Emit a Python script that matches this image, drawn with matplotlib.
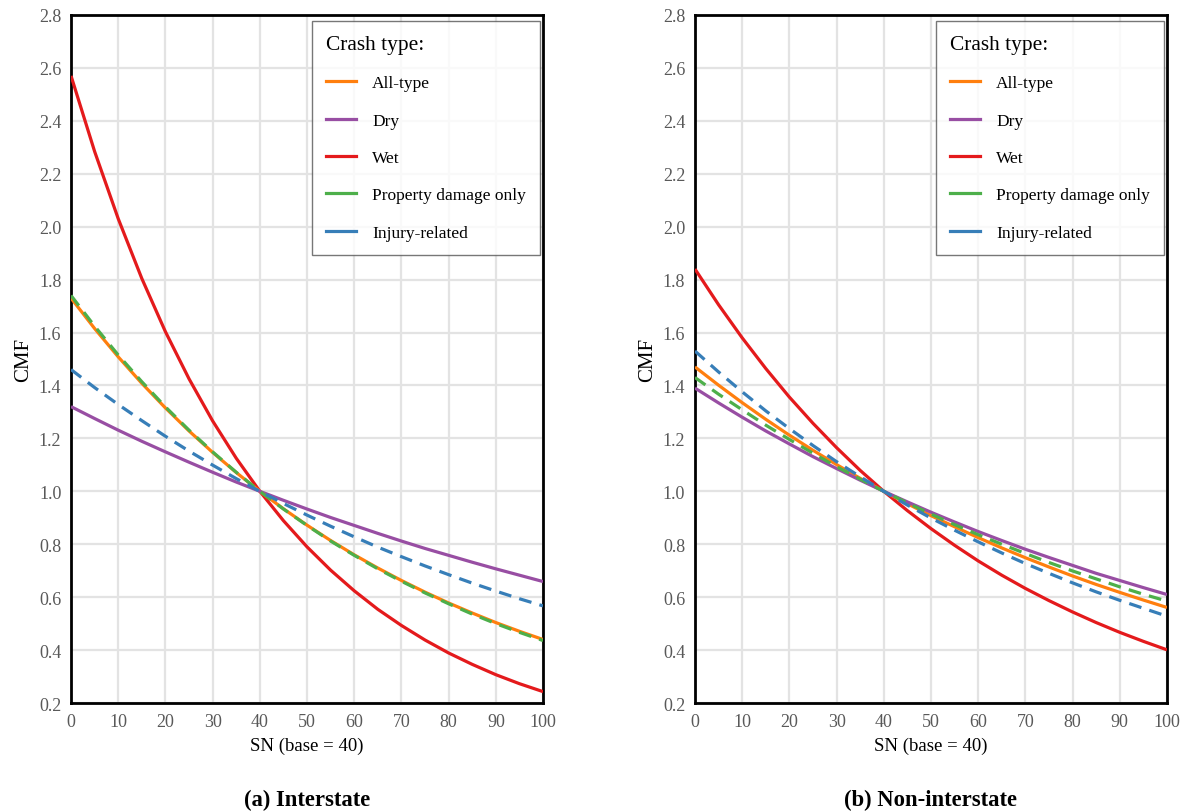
import numpy as np
import matplotlib
matplotlib.use("Agg")
import matplotlib.pyplot as plt          # noqa: E402
from matplotlib.lines import Line2D      # noqa: E402

plt.rcParams["font.family"] = ["Liberation Serif", "DejaVu Serif"]

sn = [0, 5, 10, 15, 20, 25, 30, 35, 40, 45, 50, 55, 60, 65, 70, 75, 80, 85, 90, 95, 100]
crash_types = ["All-type", "Dry", "Wet", "Property damage only", "Injury-related"]

# (a) Interstate
inter_all = [1.73, 1.615, 1.508, 1.408, 1.315, 1.228, 1.147, 1.071, 1.0, 0.934, 0.872,
             0.814, 0.760, 0.710, 0.663, 0.619, 0.578, 0.540, 0.504, 0.471, 0.440]
inter_dry = [1.32, 1.275, 1.231, 1.189, 1.149, 1.110, 1.072, 1.035, 1.0, 0.966, 0.933,
             0.901, 0.871, 0.841, 0.812, 0.784, 0.758, 0.732, 0.707, 0.683, 0.659]
inter_wet = [2.57, 2.284, 2.03, 1.804, 1.603, 1.425, 1.266, 1.125, 1.0, 0.889, 0.790,
             0.702, 0.624, 0.554, 0.493, 0.438, 0.389, 0.346, 0.307, 0.273, 0.243]
inter_pdo = [1.74, 1.624, 1.515, 1.414, 1.319, 1.231, 1.149, 1.072, 1.0, 0.933, 0.871,
             0.812, 0.758, 0.707, 0.660, 0.616, 0.575, 0.536, 0.500, 0.467, 0.436]
inter_inj = [1.46, 1.392, 1.328, 1.267, 1.208, 1.152, 1.099, 1.048, 1.0, 0.954, 0.910,
             0.868, 0.828, 0.789, 0.753, 0.718, 0.685, 0.653, 0.623, 0.594, 0.567]

# (b) Non-interstate
non_all = [1.47, 1.401, 1.335, 1.272, 1.212, 1.155, 1.101, 1.049, 1.0, 0.953, 0.908,
           0.866, 0.825, 0.786, 0.749, 0.714, 0.680, 0.648, 0.618, 0.589, 0.561]
non_dry = [1.39, 1.334, 1.280, 1.228, 1.179, 1.131, 1.086, 1.042, 1.0, 0.960, 0.921,
           0.884, 0.848, 0.814, 0.781, 0.750, 0.720, 0.690, 0.663, 0.636, 0.610]
non_wet = [1.84, 1.705, 1.580, 1.464, 1.356, 1.257, 1.165, 1.079, 1.0, 0.927, 0.859,
           0.796, 0.737, 0.683, 0.633, 0.587, 0.544, 0.504, 0.467, 0.433, 0.401]
non_pdo = [1.43, 1.367, 1.308, 1.250, 1.196, 1.144, 1.093, 1.046, 1.0, 0.956, 0.914,
           0.874, 0.836, 0.800, 0.765, 0.731, 0.699, 0.669, 0.639, 0.611, 0.585]
non_inj = [1.53, 1.451, 1.376, 1.304, 1.237, 1.173, 1.112, 1.055, 1.0, 0.948, 0.899,
           0.853, 0.809, 0.767, 0.727, 0.690, 0.654, 0.620, 0.588, 0.558, 0.528]

colors = ["#ff7f0e", "#984ea3", "#e41a1c", "#4daf4a", "#377eb8"]
styles = ["-", "-", "-", (0, (4, 2.6)), (0, (4, 2.6))]

panels = [
    ("(a) Interstate", [inter_all, inter_dry, inter_wet, inter_pdo, inter_inj]),
    ("(b) Non-interstate", [non_all, non_dry, non_wet, non_pdo, non_inj]),
]

fig = plt.figure(figsize=(11.88, 8.12), dpi=100)
lefts = [0.0598, 0.585]
yt = np.arange(0.2, 2.81, 0.2)
for left, (title, series) in zip(lefts, panels):
    ax = fig.add_axes([left, 0.133, 0.3973, 0.8473])
    # wet and solid curves first, dashed ones on top
    for i in [2, 0, 1, 3, 4]:
        ax.plot(sn, series[i], color=colors[i], linestyle=styles[i], linewidth=2.3,
                solid_capstyle="butt", dash_capstyle="butt", zorder=3)
    ax.set_xlim(0, 100)
    ax.set_ylim(0.2, 2.8)
    ax.set_xticks(np.arange(0, 101, 10))
    ax.set_yticks(yt)
    ax.set_yticklabels([f"{v:.1f}" for v in yt])
    ax.tick_params(length=0, labelsize=13, labelcolor="#595959", pad=7)
    ax.grid(color="#e3e3e3", linewidth=1.6)
    ax.set_axisbelow(True)
    for s in ax.spines.values():
        s.set_linewidth(2)
        s.set_color("black")
    ax.set_xlabel("SN (base = 40)", fontsize=13.5, labelpad=5)
    ax.set_ylabel("CMF", fontsize=15, labelpad=4)
    ax.text(0.5, -0.14, title, transform=ax.transAxes, ha="center", va="center",
            fontsize=16.3, fontweight="bold")
    handles = [Line2D([], [], color=c, linewidth=2.3) for c in colors]
    leg = ax.legend(handles, crash_types, title="Crash type:", loc="upper right",
                    bbox_to_anchor=(0.9935, 0.991), fontsize=12.5, title_fontsize=15.4,
                    frameon=True, fancybox=False, edgecolor="#555555",
                    handlelength=1.72, handletextpad=0.92, labelspacing=1.22,
                    borderpad=0.8, borderaxespad=0.0)
    leg._legend_box.align = "left"
    leg.get_frame().set_linewidth(1.0)

fig.savefig("out.png", dpi=100)
